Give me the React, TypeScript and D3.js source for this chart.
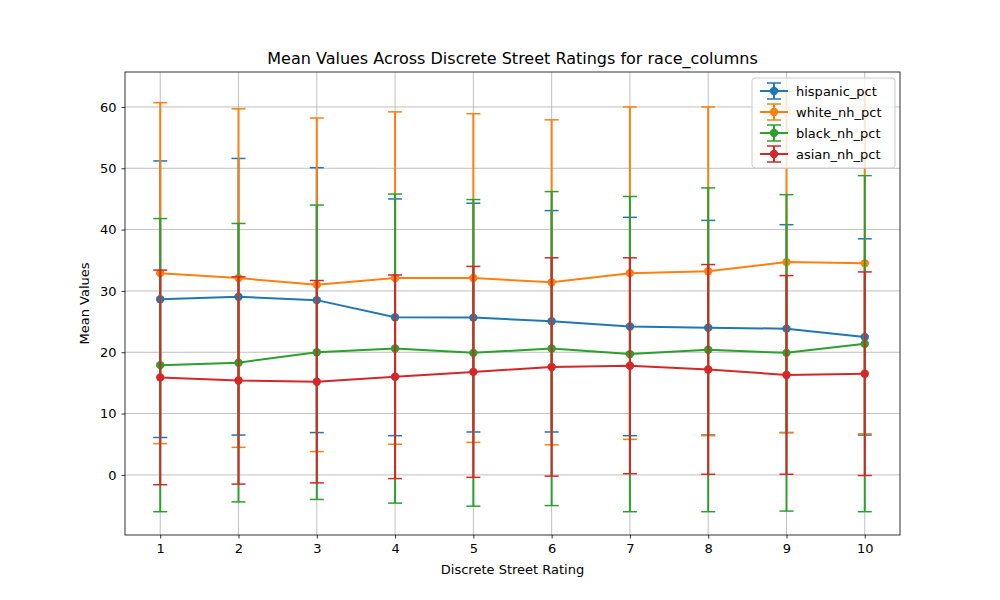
import React, { useEffect, useRef } from 'react';
import * as d3 from 'd3';

const ratings = [1, 2, 3, 4, 5, 6, 7, 8, 9, 10];
const seriesNames = ['hispanic_pct', 'white_nh_pct', 'black_nh_pct', 'asian_nh_pct'];
const colors = ['#1f77b4', '#ff7f0e', '#2ca02c', '#d62728'];

const hispanicMean = [28.65, 29.05, 28.5, 25.7, 25.65, 25.05, 24.2, 24.0, 23.85, 22.5];
const hispanicStd = [22.55, 22.55, 21.6, 19.3, 18.65, 18.05, 17.8, 17.5, 16.95, 16.0];
const whiteMean = [32.9, 32.1, 31.0, 32.1, 32.1, 31.4, 32.9, 33.2, 34.7, 34.5];
const whiteStd = [27.8, 27.6, 27.2, 27.1, 26.8, 26.5, 27.1, 26.8, 27.8, 27.8];
const blackMean = [17.9, 18.3, 20.0, 20.6, 19.9, 20.6, 19.7, 20.4, 19.9, 21.4];
const blackStd = [23.9, 22.7, 24.0, 25.2, 25.0, 25.6, 25.7, 26.4, 25.8, 27.4];
const asianMean = [15.9, 15.4, 15.2, 16.0, 16.8, 17.6, 17.8, 17.2, 16.3, 16.5];
const asianStd = [17.5, 16.9, 16.5, 16.6, 17.2, 17.8, 17.6, 17.1, 16.2, 16.6];

const yTicks = [0, 10, 20, 30, 40, 50, 60];

const W = 1000, H = 600;
const M = { left: 125, right: 900, top: 72, bottom: 535 };
const FONT = 'DejaVu Sans, sans-serif';

export default function App() {
  const ref = useRef<SVGSVGElement>(null);

  useEffect(() => {
    if (!ref.current) return;
    const svg = d3.select(ref.current);
    svg.selectAll('*').remove();

    const means = [hispanicMean, whiteMean, blackMean, asianMean];
    const stds = [hispanicStd, whiteStd, blackStd, asianStd];

    const x = d3.scaleLinear().domain([0.55, 10.45]).range([M.left, M.right]);
    const y = d3.scaleLinear().domain([-9.8, 65.7]).range([M.bottom, M.top]);

    svg.append('rect').attr('width', W).attr('height', H).attr('fill', '#fff');

    // grid
    const grid = svg.append('g').attr('stroke', '#b0b0b0').attr('stroke-width', 0.8);
    ratings.forEach(r => grid.append('line').attr('x1', x(r)).attr('x2', x(r)).attr('y1', M.top).attr('y2', M.bottom));
    yTicks.forEach(t => grid.append('line').attr('x1', M.left).attr('x2', M.right).attr('y1', y(t)).attr('y2', y(t)));

    // axes
    const xAxis = svg.append('g').attr('transform', `translate(0,${M.bottom})`)
      .call(d3.axisBottom(x).tickValues(ratings).tickSize(3.5).tickPadding(5).tickFormat(d3.format('d')));
    const yAxis = svg.append('g').attr('transform', `translate(${M.left},0)`)
      .call(d3.axisLeft(y).tickValues(yTicks).tickSize(3.5).tickPadding(5).tickFormat(d3.format('d')));
    [xAxis, yAxis].forEach(a => {
      a.select('.domain').remove();
      a.selectAll('text').attr('font-family', FONT).attr('font-size', 13).attr('fill', '#000');
      a.selectAll('line').attr('stroke', '#000').attr('stroke-width', 0.8);
    });

    svg.append('rect').attr('x', M.left).attr('y', M.top).attr('width', M.right - M.left)
      .attr('height', M.bottom - M.top).attr('fill', 'none').attr('stroke', '#000').attr('stroke-width', 0.8);

    const line = d3.line<number>().x((_, i) => x(ratings[i])).y(d => y(d));

    seriesNames.forEach((_, s) => {
      const g = svg.append('g');
      const c = colors[s];
      means[s].forEach((m, i) => {
        const lo = y(m - stds[s][i]), hi = y(m + stds[s][i]), cx = x(ratings[i]);
        g.append('line').attr('x1', cx).attr('x2', cx).attr('y1', lo).attr('y2', hi).attr('stroke', c).attr('stroke-width', 2);
        [lo, hi].forEach(yy => g.append('line').attr('x1', cx - 7).attr('x2', cx + 7).attr('y1', yy).attr('y2', yy).attr('stroke', c).attr('stroke-width', 1.5));
      });
      g.append('path').attr('d', line(means[s])).attr('fill', 'none').attr('stroke', c).attr('stroke-width', 2);
      means[s].forEach((m, i) => g.append('circle').attr('cx', x(ratings[i])).attr('cy', y(m)).attr('r', 4.2).attr('fill', c));
    });

    // legend
    const lg = svg.append('g').attr('transform', 'translate(752,78)');
    lg.append('rect').attr('width', 143).attr('height', 90).attr('rx', 3).attr('fill', '#fff').attr('fill-opacity', 0.8)
      .attr('stroke', '#ccc');
    seriesNames.forEach((n, s) => {
      const yy = 13 + s * 21, c = colors[s];
      lg.append('line').attr('x1', 8).attr('x2', 36).attr('y1', yy).attr('y2', yy).attr('stroke', c).attr('stroke-width', 2);
      lg.append('line').attr('x1', 22).attr('x2', 22).attr('y1', yy - 8).attr('y2', yy + 8).attr('stroke', c).attr('stroke-width', 2);
      [yy - 8, yy + 8].forEach(v => lg.append('line').attr('x1', 15).attr('x2', 29).attr('y1', v).attr('y2', v).attr('stroke', c).attr('stroke-width', 1.5));
      lg.append('circle').attr('cx', 22).attr('cy', yy).attr('r', 4.2).attr('fill', c);
      lg.append('text').attr('x', 44).attr('y', yy + 4.5).text(n).attr('font-family', FONT).attr('font-size', 13);
    });

    svg.append('text').attr('x', (M.left + M.right) / 2).attr('y', 64).attr('text-anchor', 'middle')
      .attr('font-family', FONT).attr('font-size', 16).text('Mean Values Across Discrete Street Ratings for race_columns');
    svg.append('text').attr('x', (M.left + M.right) / 2).attr('y', 574).attr('text-anchor', 'middle')
      .attr('font-family', FONT).attr('font-size', 13).text('Discrete Street Rating');
    svg.append('text').attr('transform', `translate(89,${(M.top + M.bottom) / 2}) rotate(-90)`).attr('text-anchor', 'middle')
      .attr('font-family', FONT).attr('font-size', 13).text('Mean Values');
  }, []);

  return <svg ref={ref} width={W} height={H} style={{ display: 'block', margin: -8 }} />;
}
